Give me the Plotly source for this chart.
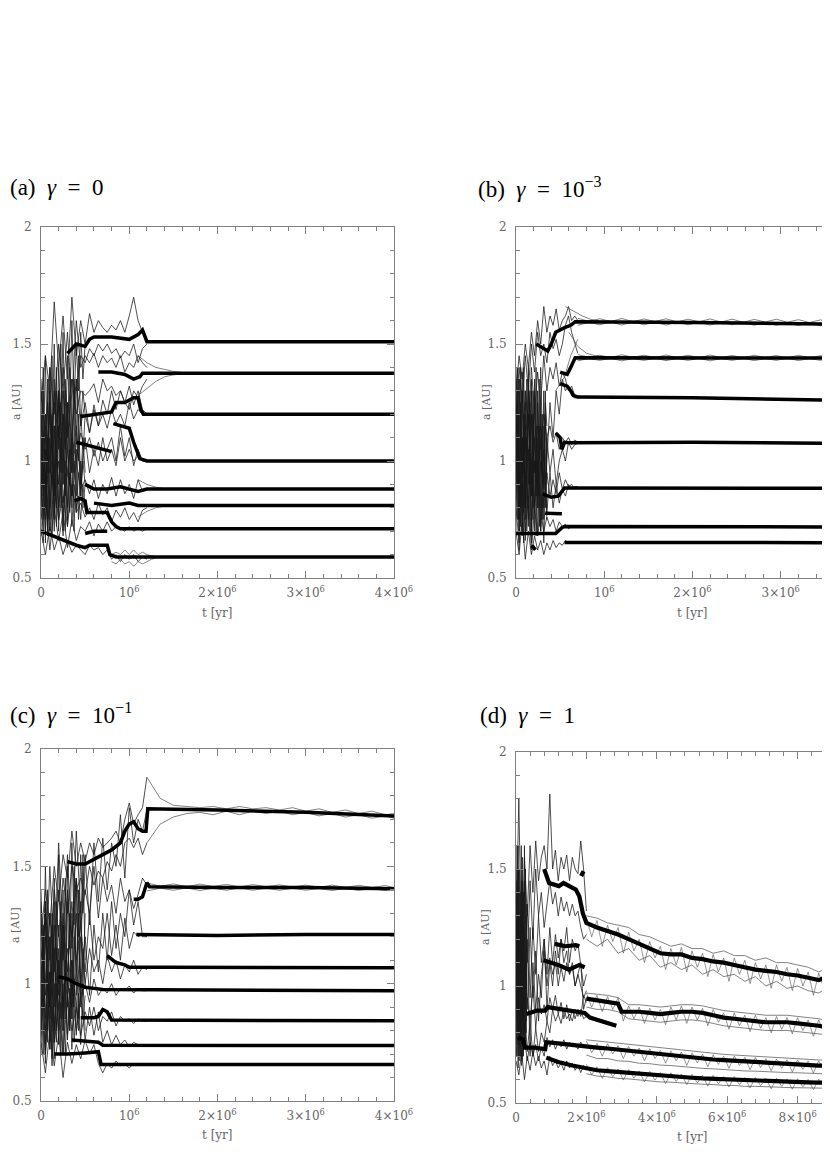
import plotly.graph_objects as go

# time t in units of 10^6 yr, semimajor axis a in AU

# ---------------- (a) gamma = 0 ----------------
A_T_CHAOS = [0, .05, .1, .15, .2, .25, .3, .35, .4, .45, .5, .55, .6, .65, .7, .75, .8, .85, .9, .95, 1.0, 1.05, 1.1, 1.15, 1.2]
A_CHAOS = [
    [1.25, 1.45, 1.3, 1.68, 1.4, 1.62, 1.35, 1.7, 1.45, 1.6, 1.5, 1.63, 1.55, 1.6, 1.57, 1.55, 1.58, 1.56, 1.6, 1.55, 1.62, 1.7, 1.6, 1.55, 1.52],
    [1.0, 1.2, 0.95, 1.3, 1.1, 1.4, 1.2, 1.35, 1.3, 1.45, 1.42, 1.48, 1.45, 1.5, 1.47, 1.5, 1.46, 1.48, 1.44, 1.47, 1.45, 1.5, 1.42, 1.48, 1.5],
    [1.3, 1.1, 1.4, 1.2, 1.5, 1.3, 1.55, 1.25, 1.6, 1.4, 1.45, 1.42, 1.46, 1.4, 1.45, 1.42, 1.44, 1.4, 1.45, 1.38, 1.42, 1.4, 1.45, 1.42, 1.4],
    [0.9, 1.15, 1.0, 1.25, 1.1, 1.3, 1.05, 1.35, 1.2, 1.3, 1.28, 1.3, 1.33, 1.25, 1.35, 1.3, 1.32, 1.28, 1.3, 1.25, 1.22, 1.3, 1.27, 1.32, 1.35],
    [1.1, 0.85, 1.2, 0.95, 1.3, 1.0, 1.25, 1.1, 1.35, 1.15, 1.25, 1.12, 1.24, 1.15, 1.26, 1.2, 1.3, 1.22, 1.3, 1.25, 1.32, 1.24, 1.3, 1.22, 1.2],
    [0.85, 1.05, 0.8, 1.15, 0.9, 1.2, 0.95, 1.1, 1.0, 1.12, 1.05, 1.1, 1.02, 1.08, 1.0, 1.05, 1.1, 1.0, 1.15, 1.02, 1.1, 0.98, 1.05, 1.0, 1.0],
    [1.0, 0.75, 1.1, 0.8, 1.0, 0.78, 0.95, 0.85, 1.0, 0.88, 0.92, 0.86, 0.92, 0.84, 0.9, 0.86, 0.93, 0.85, 0.92, 0.86, 0.9, 0.84, 0.92, 0.87, 0.88],
    [0.75, 0.95, 0.7, 0.9, 0.75, 0.85, 0.72, 0.9, 0.78, 0.82, 0.76, 0.8, 0.75, 0.82, 0.77, 0.8, 0.74, 0.79, 0.76, 0.8, 0.75, 0.78, 0.74, 0.79, 0.8],
    [0.68, 0.85, 0.62, 0.8, 0.66, 0.78, 0.63, 0.75, 0.66, 0.72, 0.7, 0.74, 0.68, 0.73, 0.7, 0.74, 0.7, 0.72, 0.71, 0.7, 0.72, 0.7, 0.71, 0.7, 0.71],
    [0.7, 0.6, 0.72, 0.62, 0.68, 0.6, 0.66, 0.61, 0.64, 0.62, 0.6, 0.64, 0.62, 0.63, 0.6, 0.62, 0.58, 0.6, 0.57, 0.6, 0.58, 0.6, 0.57, 0.59, 0.58],
    [1.35, 0.9, 1.25, 0.85, 1.3, 0.9, 1.2, 0.95, 1.15, 0.9, 1.1, 0.95, 1.05, 0.98, 1.1, 1.0, 1.05, 0.98, 1.1, 1.0, 1.05, 1.0, 1.02, 1.0, 1.0],
    [1.2, 0.7, 1.4, 0.75, 1.3, 0.7, 1.25, 0.8, 1.35, 0.85, 1.2, 1.12, 1.22, 1.15, 1.2, 1.14, 1.22, 1.16, 1.2, 1.15, 1.25, 1.18, 1.22, 1.2, 1.2],
]
A_T_CORE = [0, .025, .05, .075, .1, .125, .15, .175, .2, .225, .25, .275, .3, .325, .35, .375, .4, .425, .45, .475, .5]
A_CORE = [
    [0.72, 1.3, 0.8, 1.35, 0.7, 1.2, 0.85, 1.4, 0.75, 1.25, 0.9, 1.3, 0.8, 1.2, 0.95, 1.35, 0.85, 1.2, 0.9, 1.1, 0.95],
    [1.1, 0.65, 1.2, 0.75, 1.3, 0.68, 1.15, 0.72, 1.25, 0.8, 1.3, 0.7, 1.2, 0.78, 1.1, 0.7, 1.05, 0.75, 1.0, 0.8, 0.9],
    [0.9, 1.4, 0.85, 1.25, 1.0, 1.45, 0.9, 1.3, 1.05, 1.5, 0.95, 1.35, 1.1, 1.4, 1.0, 1.3, 1.1, 1.45, 1.15, 1.3, 1.2],
    [1.3, 0.85, 1.1, 0.7, 1.0, 0.9, 1.35, 0.8, 1.15, 0.95, 1.2, 0.85, 1.05, 0.9, 1.25, 0.95, 1.1, 1.0, 1.2, 1.05, 1.1],
    [0.8, 1.0, 0.65, 1.1, 0.75, 0.95, 0.7, 1.05, 0.8, 0.9, 0.68, 1.0, 0.75, 0.95, 0.72, 0.9, 0.8, 0.85, 0.75, 0.9, 0.8],
    [1.2, 1.0, 1.45, 0.95, 1.3, 1.1, 1.5, 1.0, 1.4, 1.15, 1.55, 1.05, 1.45, 1.2, 1.6, 1.25, 1.5, 1.3, 1.55, 1.35, 1.5],
    [0.95, 0.75, 1.05, 0.68, 0.9, 1.15, 0.78, 1.0, 0.7, 1.1, 0.82, 0.95, 0.72, 1.05, 0.85, 1.0, 0.78, 0.95, 0.85, 1.0, 0.9],
]
A_THIN = [
    ([1.1, 1.2, 1.3, 1.4, 1.5, 1.6, 1.7], [1.45, 1.42, 1.4, 1.39, 1.383, 1.378, 1.376]),
    ([1.1, 1.2, 1.3, 1.4, 1.5, 1.6, 1.7], [1.28, 1.31, 1.34, 1.36, 1.368, 1.372, 1.375]),
    ([1.1, 1.2, 1.3, 1.4], [0.92, 0.9, 0.888, 0.882]),
    ([1.1, 1.2, 1.3, 1.4], [0.76, 0.785, 0.8, 0.807]),
    ([0.8, 0.85, 0.9, 0.95, 1.0, 1.05, 1.1, 1.15, 1.2, 1.25, 1.3], [0.6, 0.61, 0.6, 0.62, 0.6, 0.62, 0.6, 0.61, 0.6, 0.595, 0.59]),
    ([0.8, 0.85, 0.9, 0.95, 1.0, 1.05, 1.1, 1.15, 1.2, 1.25, 1.3], [0.57, 0.56, 0.58, 0.56, 0.57, 0.55, 0.57, 0.56, 0.57, 0.58, 0.585]),
]
A_PLANETS = [
    ([0.3, 0.4, 0.5, 0.55, 0.6, 0.8, 1.0, 1.1, 1.15, 1.2, 1.3, 4.0], [1.46, 1.5, 1.49, 1.52, 1.53, 1.53, 1.52, 1.54, 1.56, 1.51, 1.51, 1.51]),
    ([0.65, 0.8, 0.95, 1.05, 1.12, 1.15, 4.0], [1.38, 1.38, 1.37, 1.35, 1.36, 1.375, 1.375]),
    ([0.45, 0.6, 0.8, 0.85, 0.95, 1.05, 1.1, 1.13, 1.16, 4.0], [1.19, 1.2, 1.21, 1.25, 1.25, 1.27, 1.27, 1.22, 1.2, 1.2]),
    ([0.82, 0.9, 1.0, 1.05, 1.12, 1.2, 4.0], [1.16, 1.15, 1.14, 1.08, 1.01, 1.0, 1.0]),
    ([0.4, 0.5, 0.6, 0.7, 0.8], [1.08, 1.07, 1.06, 1.05, 1.04]),
    ([0.5, 0.6, 0.75, 0.9, 1.0, 1.1, 1.2, 4.0], [0.9, 0.88, 0.88, 0.89, 0.88, 0.87, 0.88, 0.88]),
    ([0.6, 0.8, 1.0, 1.1, 1.2, 4.0], [0.82, 0.81, 0.82, 0.81, 0.81, 0.81]),
    ([0.38, 0.45, 0.5, 0.52, 0.6, 0.75, 0.8, 0.85, 0.9, 4.0], [0.83, 0.84, 0.83, 0.78, 0.78, 0.78, 0.74, 0.72, 0.71, 0.71]),
    ([0.0, 0.2, 0.4, 0.5, 0.55, 0.75, 0.78, 0.85, 1.0, 4.0], [0.7, 0.67, 0.64, 0.63, 0.64, 0.64, 0.6, 0.59, 0.59, 0.59]),
    ([0.5, 0.6, 0.75], [0.69, 0.7, 0.7]),
]

# ---------------- (b) gamma = 1e-3 ----------------
B_T_CHAOS = [0, .035, .07, .105, .14, .175, .21, .245, .28, .315, .35, .385, .42, .455, .49, .525, .56, .595, .63, .665, .7]
B_CHAOS = [
    [1.3, 1.45, 1.35, 1.5, 1.4, 1.55, 1.45, 1.6, 1.5, 1.66, 1.55, 1.62, 1.58, 1.65, 1.56, 1.6, 1.62, 1.66, 1.6, 1.62, 1.6],
    [1.2, 1.4, 1.25, 1.45, 1.3, 1.5, 1.38, 1.55, 1.45, 1.5, 1.42, 1.55, 1.48, 1.52, 1.45, 1.5, 1.58, 1.62, 1.55, 1.5, 1.46],
    [1.1, 1.35, 1.0, 1.3, 1.15, 1.4, 1.2, 1.38, 1.25, 1.45, 1.3, 1.4, 1.35, 1.42, 1.32, 1.38, 1.35, 1.3, 1.32, 1.28, 1.27],
    [0.9, 1.3, 0.95, 1.25, 1.0, 1.2, 0.95, 1.15, 1.05, 1.2, 1.1, 1.15, 1.08, 1.12, 1.05, 1.1, 1.08, 1.1, 1.07, 1.09, 1.08],
    [1.05, 0.75, 1.1, 0.8, 1.2, 0.85, 1.1, 0.8, 1.0, 0.88, 0.95, 0.85, 0.92, 0.86, 0.95, 0.88, 0.92, 0.89, 0.9, 0.88, 0.89],
    [0.8, 0.65, 0.9, 0.7, 0.85, 0.62, 0.8, 0.68, 0.78, 0.7, 0.76, 0.72, 0.75, 0.7, 0.74, 0.72, 0.73, 0.71, 0.72, 0.72, 0.72],
    [0.7, 0.6, 0.75, 0.58, 0.7, 0.6, 0.68, 0.62, 0.66, 0.6, 0.65, 0.62, 0.66, 0.63, 0.65, 0.64, 0.66, 0.65, 0.65, 0.65, 0.65],
    [1.4, 0.9, 1.3, 0.8, 1.35, 0.95, 1.25, 0.85, 1.2, 0.9, 1.1, 0.95, 1.05, 0.9, 1.0, 1.05, 1.0, 1.08, 1.05, 1.07, 1.075],
    [0.95, 1.2, 0.7, 1.1, 0.75, 1.3, 0.8, 1.0, 0.7, 1.05, 0.78, 0.95, 0.8, 0.9, 0.82, 0.88, 0.85, 0.9, 0.88, 0.89, 0.89],
    [1.25, 0.8, 1.38, 0.9, 1.2, 0.7, 1.3, 0.95, 1.15, 0.8, 1.0, 1.25, 1.1, 1.3, 1.2, 1.35, 1.3, 1.32, 1.28, 1.27, 1.27],
]
B_T_CORE = [0, .0175, .035, .0525, .07, .0875, .105, .1225, .14, .1575, .175, .1925, .21, .2275, .245, .2625, .28, .2975, .315, .3325, .35]
B_CORE = [
    [0.7, 1.3, 0.75, 1.4, 0.68, 1.2, 0.8, 1.35, 0.72, 1.25, 0.85, 1.3, 0.7, 1.15, 0.9, 1.35, 0.8, 1.2, 0.75, 1.3, 0.9],
    [1.2, 0.75, 1.35, 0.8, 1.1, 0.65, 1.3, 0.9, 1.4, 0.7, 1.2, 0.8, 1.35, 0.68, 1.1, 0.85, 1.25, 0.75, 1.15, 0.9, 1.05],
    [0.95, 1.15, 0.7, 1.25, 0.85, 1.4, 0.75, 1.1, 0.9, 1.3, 0.7, 1.05, 0.95, 1.4, 0.8, 1.15, 0.7, 1.0, 0.9, 1.2, 0.8],
    [1.35, 0.9, 1.1, 0.72, 1.3, 0.95, 1.2, 0.7, 1.05, 0.9, 1.35, 0.75, 1.0, 0.85, 1.25, 0.72, 1.1, 0.95, 1.3, 0.8, 1.1],
    [0.8, 1.05, 0.62, 0.95, 0.75, 1.1, 0.66, 0.9, 0.8, 1.0, 0.65, 0.92, 0.78, 1.05, 0.68, 0.9, 0.72, 0.85, 0.65, 0.9, 0.75],
    [1.05, 1.4, 0.9, 1.2, 1.0, 0.78, 1.15, 0.95, 1.3, 1.05, 0.9, 1.2, 1.05, 0.95, 1.3, 1.0, 1.4, 1.1, 1.0, 1.25, 1.15],
]
B_T_LATE = [0.7, 0.825, 0.95, 1.075, 1.2, 1.325, 1.45, 1.575, 1.7, 1.825, 1.95, 2.075, 2.2, 2.325, 2.45, 2.575, 2.7, 2.825, 2.95, 3.075, 3.2, 3.325, 3.45, 3.575]
B_THIN = [
    (B_T_LATE, [1.61, 1.597, 1.608, 1.596, 1.609, 1.595, 1.607, 1.596, 1.608, 1.594, 1.606, 1.595, 1.607, 1.594, 1.606, 1.593, 1.605, 1.594, 1.606, 1.593, 1.604, 1.592, 1.603, 1.59]),
    (B_T_LATE, [1.58, 1.593, 1.582, 1.594, 1.581, 1.595, 1.582, 1.593, 1.581, 1.594, 1.582, 1.593, 1.581, 1.594, 1.582, 1.593, 1.58, 1.592, 1.58, 1.591, 1.579, 1.59, 1.578, 1.585]),
    (B_T_LATE, [1.455, 1.443, 1.452, 1.442, 1.454, 1.443, 1.452, 1.442, 1.453, 1.442, 1.452, 1.441, 1.453, 1.442, 1.451, 1.441, 1.452, 1.442, 1.451, 1.44, 1.452, 1.441, 1.45, 1.44]),
    (B_T_LATE, [1.428, 1.438, 1.43, 1.439, 1.428, 1.438, 1.43, 1.439, 1.429, 1.438, 1.43, 1.439, 1.428, 1.438, 1.43, 1.439, 1.429, 1.438, 1.43, 1.44, 1.429, 1.438, 1.43, 1.44]),
    ([0.56, 0.65, 0.75, 0.85, 0.95], [1.66, 1.64, 1.62, 1.605, 1.598]),
    ([0.6, 0.65, 0.7, 0.8, 0.9, 1.0], [1.55, 1.52, 1.49, 1.46, 1.45, 1.445]),
    ([0.45, 0.55, 0.62, 0.7], [1.3, 1.36, 1.45, 1.52]),
]
B_PLANETS = [
    ([0.23, 0.36, 0.4, 0.45, 0.55, 0.62, 0.67, 1.0, 2.0, 3.0, 3.65], [1.5, 1.47, 1.5, 1.55, 1.57, 1.58, 1.595, 1.595, 1.592, 1.588, 1.585]),
    ([0.5, 0.58, 0.62, 0.67, 3.65], [1.38, 1.37, 1.4, 1.441, 1.44]),
    ([0.5, 0.58, 0.62, 0.65, 0.7, 2.0, 3.65], [1.33, 1.32, 1.3, 1.28, 1.273, 1.27, 1.26]),
    ([0.45, 0.5, 0.52, 0.55, 0.6, 2.0, 3.65], [1.12, 1.1, 1.05, 1.08, 1.078, 1.08, 1.075]),
    ([0.3, 0.4, 0.48, 0.52, 0.55, 0.6, 3.65], [0.86, 0.845, 0.85, 0.87, 0.885, 0.885, 0.883]),
    ([0.0, 0.2, 0.3, 0.45, 0.52, 0.55, 3.65], [0.69, 0.69, 0.69, 0.69, 0.715, 0.72, 0.718]),
    ([0.55, 3.65], [0.652, 0.651]),
    ([0.33, 0.45, 0.52], [0.777, 0.777, 0.775]),
    ([0.18, 0.22], [0.64, 0.62]),
]

# ---------------- (c) gamma = 1e-1 ----------------
C_T_CHAOS = [0, .05, .1, .15, .2, .25, .3, .35, .4, .45, .5, .55, .6, .65, .7, .75, .8, .85, .9, .95, 1.0, 1.05, 1.1, 1.15, 1.2]
C_CHAOS = [
    [1.2, 1.4, 1.25, 1.5, 1.35, 1.55, 1.45, 1.65, 1.5, 1.6, 1.52, 1.6, 1.55, 1.62, 1.58, 1.6, 1.62, 1.65, 1.6, 1.7, 1.77, 1.68, 1.72, 1.75, 1.88],
    [1.0, 1.3, 1.1, 1.4, 1.2, 1.45, 1.3, 1.5, 1.4, 1.45, 1.38, 1.5, 1.42, 1.48, 1.45, 1.52, 1.48, 1.55, 1.5, 1.6, 1.62, 1.58, 1.62, 1.55, 1.6],
    [1.25, 0.95, 1.3, 1.05, 1.4, 1.1, 1.35, 1.2, 1.45, 1.25, 1.4, 1.3, 1.5, 1.28, 1.45, 1.35, 1.42, 1.3, 1.45, 1.35, 1.4, 1.32, 1.38, 1.45, 1.42],
    [1.1, 1.3, 0.9, 1.25, 1.0, 1.3, 1.05, 1.35, 1.1, 1.25, 1.05, 1.3, 1.1, 1.2, 1.15, 1.3, 1.12, 1.25, 1.1, 1.28, 1.15, 1.22, 1.2, 1.21, 1.2],
    [0.8, 1.2, 0.85, 1.15, 0.9, 1.25, 0.95, 1.1, 0.9, 1.2, 1.0, 1.15, 1.05, 1.1, 1.0, 1.12, 1.05, 1.1, 1.02, 1.08, 1.05, 1.1, 1.04, 1.07, 1.06],
    [1.1, 0.75, 1.05, 0.8, 1.1, 0.85, 1.0, 0.9, 1.05, 0.95, 1.0, 0.92, 1.02, 0.95, 0.98, 0.96, 1.0, 0.95, 0.98, 0.97, 0.99, 0.96, 0.98, 0.97, 0.97],
    [0.95, 0.7, 1.0, 0.75, 0.9, 0.7, 0.95, 0.8, 0.9, 0.78, 0.88, 0.82, 0.9, 0.8, 0.86, 0.84, 0.88, 0.82, 0.86, 0.84, 0.85, 0.83, 0.85, 0.84, 0.84],
    [0.75, 0.62, 0.8, 0.65, 0.78, 0.6, 0.75, 0.66, 0.74, 0.68, 0.76, 0.7, 0.74, 0.66, 0.62, 0.66, 0.64, 0.67, 0.65, 0.66, 0.64, 0.66, 0.65, 0.66, 0.65],
    [1.3, 0.85, 1.2, 0.8, 1.25, 0.9, 1.15, 0.95, 1.3, 1.0, 1.2, 0.95, 1.25, 1.05, 1.3, 1.1, 1.35, 1.15, 1.3, 1.2, 1.4, 1.25, 1.35, 1.2, 1.2],
    [0.95, 1.35, 0.75, 1.1, 0.8, 1.2, 0.78, 1.0, 0.8, 0.95, 0.76, 0.9, 0.78, 0.88, 0.75, 0.8, 0.74, 0.78, 0.74, 0.76, 0.73, 0.75, 0.74, 0.74, 0.735],
    [1.35, 1.0, 1.5, 1.1, 1.6, 1.2, 1.55, 1.15, 1.65, 1.3, 1.55, 1.25, 1.6, 1.35, 1.62, 1.4, 1.6, 1.5, 1.72, 1.45, 1.75, 1.6, 1.7, 1.65, 1.74],
]
C_T_CORE = [0, .025, .05, .075, .1, .125, .15, .175, .2, .225, .25, .275, .3, .325, .35, .375, .4, .425, .45, .475, .5]
C_CORE = [
    [1.0, 0.7, 1.3, 0.75, 1.2, 0.68, 1.35, 0.8, 1.1, 0.7, 1.25, 0.85, 1.4, 0.8, 1.3, 0.9, 1.45, 0.85, 1.35, 0.95, 1.3],
    [0.7, 1.1, 0.8, 1.4, 0.72, 1.25, 0.9, 1.35, 0.75, 1.2, 0.8, 1.45, 0.9, 1.3, 0.85, 1.5, 0.95, 1.4, 1.0, 1.55, 1.1],
    [1.2, 0.9, 1.35, 0.8, 1.05, 0.65, 1.0, 0.75, 1.15, 0.85, 1.0, 0.7, 0.95, 0.8, 1.1, 0.75, 0.9, 0.8, 1.0, 0.85, 0.95],
    [0.85, 1.25, 0.7, 1.0, 0.9, 1.3, 0.75, 1.15, 0.95, 1.35, 0.8, 1.1, 1.0, 1.25, 0.85, 1.2, 1.05, 1.3, 0.9, 1.15, 1.0],
    [1.4, 1.05, 1.5, 1.1, 1.3, 0.95, 1.45, 1.1, 1.55, 1.2, 1.4, 1.05, 1.5, 1.15, 1.6, 1.25, 1.45, 1.2, 1.55, 1.3, 1.5],
    [0.78, 0.95, 0.66, 1.05, 0.72, 0.9, 0.68, 1.0, 0.74, 0.92, 0.7, 1.05, 0.76, 0.98, 0.72, 1.02, 0.78, 0.96, 0.74, 1.0, 0.8],
]
C_T_LATE = [1.2, 1.35, 1.5, 1.65, 1.8, 1.95, 2.1, 2.25, 2.4, 2.55, 2.7, 2.85, 3.0, 3.15, 3.3, 3.45, 3.6, 3.75, 3.9, 4.0]
C_THIN = [
    (C_T_LATE, [1.88, 1.79, 1.76, 1.755, 1.75, 1.755, 1.745, 1.755, 1.745, 1.75, 1.74, 1.75, 1.735, 1.745, 1.73, 1.74, 1.725, 1.735, 1.72, 1.725]),
    (C_T_LATE, [1.6, 1.68, 1.71, 1.725, 1.73, 1.72, 1.735, 1.72, 1.735, 1.725, 1.735, 1.72, 1.73, 1.715, 1.725, 1.71, 1.72, 1.705, 1.715, 1.705]),
    (C_T_LATE, [1.43, 1.415, 1.425, 1.413, 1.424, 1.414, 1.423, 1.412, 1.422, 1.413, 1.421, 1.412, 1.42, 1.411, 1.42, 1.41, 1.419, 1.41, 1.418, 1.41]),
    (C_T_LATE, [1.395, 1.407, 1.398, 1.408, 1.397, 1.407, 1.398, 1.408, 1.398, 1.407, 1.398, 1.407, 1.398, 1.406, 1.397, 1.406, 1.397, 1.405, 1.397, 1.405]),
]
C_PLANETS = [
    ([0.3, 0.4, 0.5, 0.6, 0.7, 0.8, 0.9, 0.95, 1.0, 1.05, 1.1, 1.15, 1.19, 1.21, 2.0, 3.0, 4.0],
     [1.52, 1.51, 1.51, 1.53, 1.55, 1.57, 1.6, 1.65, 1.68, 1.69, 1.66, 1.65, 1.65, 1.745, 1.74, 1.73, 1.715]),
    ([1.05, 1.1, 1.15, 1.2, 1.23, 2.0, 3.0, 4.0], [1.36, 1.36, 1.37, 1.43, 1.413, 1.41, 1.41, 1.405]),
    ([1.08, 2.0, 3.0, 4.0], [1.21, 1.205, 1.21, 1.21]),
    ([0.75, 0.85, 0.95, 1.0, 1.4, 4.0], [1.12, 1.09, 1.08, 1.07, 1.07, 1.068]),
    ([0.2, 0.3, 0.4, 0.5, 0.6, 0.7, 4.0], [1.03, 1.02, 1.0, 0.985, 0.98, 0.975, 0.97]),
    ([0.45, 0.6, 0.65, 0.7, 0.75, 0.8, 4.0], [0.855, 0.855, 0.86, 0.89, 0.88, 0.845, 0.842]),
    ([0.35, 0.5, 0.65, 0.7, 4.0], [0.76, 0.755, 0.75, 0.738, 0.736]),
    ([0.15, 0.3, 0.5, 0.65, 0.68, 4.0], [0.7, 0.7, 0.705, 0.71, 0.656, 0.656]),
]

# ---------------- (d) gamma = 1 ----------------
D_T_CHAOS = [0, .08, .16, .24, .32, .4, .48, .56, .64, .72, .8, .88, .96, 1.04, 1.12, 1.2, 1.28, 1.36, 1.44, 1.52, 1.6, 1.68, 1.76, 1.84, 1.92, 2.0]
D_CHAOS = [
    [1.2, 1.8, 1.1, 1.55, 1.3, 1.6, 1.4, 1.62, 1.45, 1.55, 1.6, 1.5, 1.82, 1.5, 1.58, 1.45, 1.55, 1.5, 1.56, 1.45, 1.55, 1.5, 1.48, 1.62, 1.5, 1.32],
    [1.0, 1.5, 0.9, 1.4, 1.1, 1.45, 1.2, 1.5, 1.3, 1.4, 1.25, 1.35, 1.45, 1.35, 1.4, 1.3, 1.38, 1.32, 1.36, 1.3, 1.35, 1.3, 1.32, 1.25, 1.2, 1.22],
    [1.4, 0.8, 1.3, 0.9, 1.35, 0.95, 1.25, 1.05, 1.3, 1.1, 1.2, 1.05, 1.25, 1.1, 1.22, 1.12, 1.2, 1.15, 1.25, 1.1, 1.2, 1.15, 1.18, 1.1, 1.0, 1.05],
    [0.85, 1.3, 0.75, 1.2, 0.9, 1.25, 0.95, 1.15, 0.85, 1.05, 1.15, 1.0, 1.12, 1.05, 1.1, 1.0, 1.08, 1.02, 1.1, 1.05, 1.08, 1.0, 1.05, 1.1, 0.9, 0.95],
    [1.1, 0.7, 1.0, 0.75, 0.95, 0.85, 1.0, 0.82, 0.95, 0.88, 0.92, 0.85, 0.95, 0.9, 0.96, 0.88, 0.93, 0.86, 0.92, 0.85, 0.9, 0.86, 0.9, 0.87, 0.96, 0.93],
    [0.75, 0.95, 0.68, 0.9, 0.72, 0.85, 0.7, 0.82, 0.72, 0.8, 0.76, 0.85, 0.8, 0.9, 0.85, 0.88, 0.84, 0.9, 0.86, 0.88, 0.85, 0.9, 0.87, 0.9, 0.86, 0.87],
    [0.7, 0.82, 0.66, 0.78, 0.68, 0.76, 0.7, 0.75, 0.68, 0.74, 0.7, 0.78, 0.74, 0.77, 0.73, 0.76, 0.74, 0.77, 0.73, 0.76, 0.74, 0.75, 0.73, 0.76, 0.74, 0.75],
    [0.68, 0.62, 0.72, 0.6, 0.7, 0.64, 0.72, 0.66, 0.7, 0.65, 0.68, 0.62, 0.7, 0.66, 0.68, 0.65, 0.67, 0.64, 0.68, 0.65, 0.67, 0.64, 0.66, 0.63, 0.66, 0.64],
    [1.3, 0.9, 1.45, 0.8, 1.2, 0.7, 1.1, 0.9, 1.05, 0.95, 1.2, 0.9, 1.1, 1.0, 1.15, 1.05, 1.2, 1.1, 1.15, 1.05, 1.1, 1.0, 1.05, 1.0, 0.95, 0.98],
]
D_T_CORE = [0, .03, .06, .09, .12, .15, .18, .21, .24, .27, .3]
D_CORE = [
    [1.5, 0.7, 1.6, 0.75, 1.4, 0.7, 1.55, 0.8, 1.45, 0.75, 1.3],
    [0.7, 1.45, 0.65, 1.5, 0.8, 1.6, 0.7, 1.4, 0.75, 1.5, 0.85],
    [1.1, 0.8, 1.3, 0.9, 1.2, 0.75, 1.35, 0.85, 1.25, 0.9, 1.1],
    [0.9, 1.25, 0.8, 1.2, 0.95, 1.3, 0.85, 1.15, 0.95, 1.1, 1.0],
    [1.3, 0.9, 1.5, 0.68, 1.2, 1.0, 1.4, 0.7, 1.25, 0.95, 1.35],
    [0.95, 1.6, 1.0, 1.3, 0.7, 1.1, 1.45, 0.9, 1.6, 1.05, 0.8],
]
D_T_LATE = [2.0, 2.3, 2.6, 2.9, 3.2, 3.5, 3.8, 4.1, 4.4, 4.7, 5.0, 5.3, 5.6, 5.9, 6.2, 6.5, 6.8, 7.1, 7.4, 7.7, 8.0, 8.3, 8.6, 8.92]
D_THIN = [
    (D_T_LATE, [1.3, 1.29, 1.27, 1.26, 1.25, 1.22, 1.21, 1.19, 1.17, 1.18, 1.16, 1.16, 1.14, 1.15, 1.13, 1.13, 1.11, 1.12, 1.1, 1.1, 1.09, 1.08, 1.06, 1.08]),
    (D_T_LATE, [1.2, 1.17, 1.2, 1.14, 1.16, 1.11, 1.13, 1.08, 1.1, 1.07, 1.09, 1.05, 1.07, 1.04, 1.05, 1.02, 1.04, 1.0, 1.02, 0.99, 1.0, 0.98, 0.97, 1.0]),
    (D_T_LATE, [0.97, 0.965, 0.96, 0.95, 0.92, 0.92, 0.915, 0.91, 0.915, 0.92, 0.92, 0.915, 0.905, 0.895, 0.89, 0.885, 0.88, 0.875, 0.875, 0.875, 0.87, 0.865, 0.86, 0.85]),
    (D_T_LATE, [0.91, 0.9, 0.9, 0.89, 0.86, 0.855, 0.85, 0.845, 0.85, 0.855, 0.855, 0.85, 0.84, 0.83, 0.825, 0.82, 0.815, 0.81, 0.81, 0.81, 0.805, 0.8, 0.795, 0.79]),
    (D_T_LATE, [0.77, 0.765, 0.76, 0.755, 0.75, 0.745, 0.74, 0.735, 0.73, 0.725, 0.72, 0.716, 0.712, 0.708, 0.705, 0.702, 0.699, 0.696, 0.693, 0.69, 0.688, 0.686, 0.684, 0.682]),
    (D_T_LATE, [0.705, 0.69, 0.69, 0.68, 0.678, 0.67, 0.668, 0.662, 0.66, 0.655, 0.652, 0.648, 0.646, 0.642, 0.64, 0.637, 0.636, 0.633, 0.632, 0.63, 0.629, 0.627, 0.626, 0.624]),
    (D_T_LATE, [0.625, 0.615, 0.612, 0.605, 0.603, 0.598, 0.596, 0.59, 0.589, 0.585, 0.584, 0.58, 0.579, 0.575, 0.575, 0.571, 0.571, 0.568, 0.568, 0.566, 0.566, 0.565, 0.564, 0.563]),
]
D_T_HAIR = [2.0, 2.15, 2.3, 2.45, 2.6, 2.75, 2.9, 3.05, 3.2, 3.35, 3.5, 3.65, 3.8, 3.95, 4.1, 4.25, 4.4, 4.55, 4.7, 4.85, 5.0, 5.15, 5.3, 5.45,
            5.6, 5.75, 5.9, 6.05, 6.2, 6.35, 6.5, 6.65, 6.8, 6.95, 7.1, 7.25, 7.4, 7.55, 7.7, 7.85, 8.0, 8.15, 8.3, 8.45, 8.6, 8.75, 8.9]
D_HAIR = [
    [1.29, 1.21, 1.28, 1.17, 1.26, 1.19, 1.25, 1.14, 1.23, 1.15, 1.2, 1.1, 1.19, 1.12, 1.17, 1.07, 1.16, 1.09, 1.165, 1.06, 1.15, 1.08, 1.14, 1.04,
     1.135, 1.06, 1.12, 1.02, 1.12, 1.05, 1.11, 1.01, 1.1, 1.03, 1.09, 0.99, 1.09, 1.02, 1.08, 0.98, 1.075, 1.0, 1.06, 0.96, 1.055, 0.99, 1.075],
    [0.97, 0.91, 0.96, 0.89, 0.955, 0.9, 0.95, 0.85, 0.915, 0.86, 0.91, 0.84, 0.905, 0.855, 0.9, 0.835, 0.91, 0.855, 0.915, 0.84, 0.91, 0.855, 0.905, 0.83,
     0.9, 0.845, 0.885, 0.815, 0.885, 0.83, 0.875, 0.805, 0.875, 0.82, 0.865, 0.8, 0.87, 0.815, 0.865, 0.795, 0.865, 0.81, 0.855, 0.785, 0.855, 0.8, 0.845],
    [0.765, 0.715, 0.755, 0.7, 0.753, 0.71, 0.745, 0.69, 0.742, 0.7, 0.735, 0.68, 0.732, 0.69, 0.725, 0.67, 0.723, 0.68, 0.718, 0.66, 0.714, 0.672, 0.708, 0.655,
     0.706, 0.665, 0.7, 0.648, 0.7, 0.66, 0.695, 0.642, 0.694, 0.652, 0.69, 0.638, 0.688, 0.648, 0.685, 0.632, 0.684, 0.644, 0.68, 0.628, 0.68, 0.64, 0.678],
    [0.665, 0.62, 0.655, 0.605, 0.651, 0.612, 0.645, 0.598, 0.643, 0.606, 0.637, 0.59, 0.635, 0.598, 0.63, 0.583, 0.629, 0.592, 0.624, 0.578, 0.623, 0.586, 0.618, 0.572,
     0.618, 0.582, 0.613, 0.568, 0.613, 0.578, 0.609, 0.564, 0.609, 0.574, 0.605, 0.561, 0.606, 0.571, 0.603, 0.559, 0.604, 0.569, 0.601, 0.557, 0.602, 0.567, 0.601],
]
D_PLANETS = [
    ([0.8, 0.94, 1.22, 1.35, 1.7, 1.8, 1.9, 2.0, 2.3, 2.6, 2.9, 3.2, 3.5, 3.8, 4.1, 4.4, 4.7, 5.0, 5.3, 5.6, 5.9, 6.2, 6.5, 6.8, 7.1, 7.4, 7.7, 8.0, 8.3, 8.6, 8.92],
     [1.5, 1.44, 1.427, 1.44, 1.412, 1.383, 1.31, 1.27, 1.25, 1.235, 1.22, 1.2, 1.18, 1.16, 1.14, 1.135, 1.135, 1.12, 1.115, 1.105, 1.1, 1.09, 1.08, 1.07, 1.065, 1.06, 1.05, 1.045, 1.035, 1.025, 1.045]),
    ([0.3, 0.6, 0.83, 0.9, 1.3, 1.74, 1.95, 2.1, 2.4, 2.7, 2.85], [0.88, 0.895, 0.895, 0.91, 0.9, 0.888, 0.885, 0.865, 0.85, 0.835, 0.83]),
    ([2.0, 2.3, 2.6, 2.9, 3.0, 3.2, 3.5, 3.8, 4.1, 4.4, 4.7, 5.0, 5.3, 5.6, 5.9, 6.2, 6.5, 6.8, 7.1, 7.4, 7.7, 8.0, 8.3, 8.6, 8.92],
     [0.946, 0.94, 0.935, 0.925, 0.89, 0.89, 0.89, 0.885, 0.88, 0.885, 0.89, 0.89, 0.885, 0.875, 0.865, 0.86, 0.855, 0.85, 0.845, 0.845, 0.845, 0.84, 0.835, 0.83, 0.82]),
    ([0.05, 0.2, 0.26, 0.5, 0.83, 0.86, 1.2, 1.6, 2.0, 2.3, 2.6, 2.9, 3.2, 3.5, 3.8, 4.1, 4.4, 4.7, 5.0, 5.3, 5.6, 5.9, 6.2, 6.5, 6.8, 7.1, 7.4, 7.7, 8.0, 8.3, 8.6, 8.92],
     [0.78, 0.77, 0.737, 0.737, 0.73, 0.76, 0.755, 0.75, 0.745, 0.737, 0.733, 0.728, 0.722, 0.717, 0.712, 0.708, 0.703, 0.699, 0.694, 0.69, 0.686, 0.683, 0.68, 0.677, 0.674, 0.671, 0.668, 0.666, 0.664, 0.662, 0.66, 0.658]),
    ([0.86, 1.2, 1.6, 2.0, 2.3, 2.6, 2.9, 3.2, 3.5, 3.8, 4.1, 4.4, 4.7, 5.0, 5.3, 5.6, 5.9, 6.2, 6.5, 6.8, 7.1, 7.4, 7.7, 8.0, 8.3, 8.6, 8.92],
     [0.694, 0.675, 0.66, 0.648, 0.64, 0.636, 0.632, 0.628, 0.624, 0.62, 0.617, 0.614, 0.611, 0.608, 0.605, 0.603, 0.6, 0.598, 0.596, 0.594, 0.592, 0.591, 0.59, 0.589, 0.588, 0.587, 0.586]),
    ([1.1, 1.4, 1.7, 1.8], [1.18, 1.17, 1.175, 1.17]),
    ([0.78, 1.2, 1.5, 1.8, 1.95], [1.11, 1.09, 1.07, 1.09, 1.08]),
    ([1.85, 1.92], [1.47, 1.49]),
]

# axes / labels
X_TICKS_4 = [0, 1, 2, 3, 4]
X_TEXT_4 = ["0", "10<sup>6</sup>", "2×10<sup>6</sup>", "3×10<sup>6</sup>", "4×10<sup>6</sup>"]
X_TICKS_10 = [0, 2, 4, 6, 8]
X_TEXT_10 = ["0", "2×10<sup>6</sup>", "4×10<sup>6</sup>", "6×10<sup>6</sup>", "8×10<sup>6</sup>"]
TITLES = [
    "(a)\u2002<i>γ</i>\u2002=\u20020",
    "(b)\u2002<i>γ</i>\u2002=\u200210<sup>−3</sup>",
    "(c)\u2002<i>γ</i>\u2002=\u200210<sup>−1</sup>",
    "(d)\u2002<i>γ</i>\u2002=\u20021",
]

W, H = 830, 1173
OFF = 8  # the page body margin shifts the figure by this many pixels
GRAY = "#808080"
TEXT_GRAY = "#666666"
TICK_FONT = dict(family="DejaVu Serif", size=12, color=TEXT_GRAY)
CLOUD = dict(color="rgba(25,25,25,0.85)", width=0.9)
THIN = dict(color="rgba(70,70,70,0.85)", width=0.8)
HAIR = dict(color="rgba(80,80,80,0.75)", width=0.8)


def px(x):
    return (x - OFF) / W


def py(y):
    return 1 - (y - OFF) / H


fig = go.Figure()


def add_lines(xa, ya, t, rows, line):
    for a in rows:
        fig.add_trace(go.Scatter(x=t, y=a, xaxis=xa, yaxis=ya, mode="lines", line=line, hoverinfo="skip"))


def add_panel(n, clouds, thin, planets, width, hair=None):
    xa = "x" if n == 1 else f"x{n}"
    ya = "y" if n == 1 else f"y{n}"
    for t, rows in clouds:
        add_lines(xa, ya, t, rows, CLOUD)
    if hair:
        add_lines(xa, ya, hair[0], hair[1], HAIR)
    for t, a in thin:
        add_lines(xa, ya, t, [a], THIN)
    for t, a in planets:
        add_lines(xa, ya, t, [a], dict(color="black", width=width))


add_panel(1, [(A_T_CHAOS, A_CHAOS), (A_T_CORE, A_CORE)], A_THIN, A_PLANETS, 3.5)
add_panel(2, [(B_T_CHAOS, B_CHAOS), (B_T_CORE, B_CORE)], B_THIN, B_PLANETS, 3.5)
add_panel(3, [(C_T_CHAOS, C_CHAOS), (C_T_CORE, C_CORE)], C_THIN, C_PLANETS, 3.5)
add_panel(4, [(D_T_CHAOS, D_CHAOS), (D_T_CORE, D_CORE)], D_THIN, D_PLANETS, 4.2, hair=(D_T_HAIR, D_HAIR))


def xaxis(x0, x1, y_anchor, rng, dtick, minor, vals, text):
    return dict(domain=[px(x0), min(px(x1), 1)], anchor=y_anchor, range=rng, automargin=False,
                tickmode="linear", tick0=0, dtick=dtick,
                labelalias={str(v): s for v, s in zip(vals, text)},
                ticks="inside", ticklen=7, tickwidth=1, tickcolor=GRAY,
                minor=dict(dtick=minor, tick0=0, ticks="inside", ticklen=4, tickcolor=GRAY),
                showline=True, linecolor=GRAY, linewidth=1, mirror="ticks",
                showgrid=False, zeroline=False, tickfont=TICK_FONT, ticklabelstandoff=4)


def yaxis(y0, y1, x_anchor, mirror):
    return dict(domain=[py(y1), py(y0)], anchor=x_anchor, range=[0.5, 2], automargin=False,
                tickmode="linear", tick0=0.5, dtick=0.5,
                ticks="inside", ticklen=7, tickwidth=1, tickcolor=GRAY,
                minor=dict(dtick=0.1, tick0=0.5, ticks="inside", ticklen=4, tickcolor=GRAY),
                showline=True, linecolor=GRAY, linewidth=1, mirror=mirror,
                showgrid=False, zeroline=False, tickfont=TICK_FONT, ticklabelstandoff=6)


# right-hand panels run past the page edge; keep their scale (88.25 px per 1e6 yr, 35.2 px per 1e6 yr)
RIGHT_EDGE = W + OFF
fig.update_layout(
    width=W, height=H, margin=dict(l=0, r=0, t=0, b=0, autoexpand=False),
    paper_bgcolor="white", plot_bgcolor="white", showlegend=False,
    xaxis=xaxis(41, 394, "y", [0, 4], 1, 0.2, X_TICKS_4, X_TEXT_4),
    yaxis=yaxis(227, 578, "x", "ticks"),
    xaxis2=xaxis(516, RIGHT_EDGE, "y2", [0, (RIGHT_EDGE - 516) / 88.25], 1, 0.2, X_TICKS_4, X_TEXT_4),
    yaxis2=yaxis(227, 578, "x2", False),
    xaxis3=xaxis(41, 394, "y3", [0, 4], 1, 0.2, X_TICKS_4, X_TEXT_4),
    yaxis3=yaxis(749, 1101, "x3", "ticks"),
    xaxis4=xaxis(516, RIGHT_EDGE, "y4", [0, (RIGHT_EDGE - 516) / 35.2], 2, 0.4, X_TICKS_10, X_TEXT_10),
    yaxis4=yaxis(752, 1103, "x4", False),
)

ann = []
title_pos = [(OFF, 188), (476, 188), (OFF, 713), (478, 715)]
for (x, y), txt in zip(title_pos, TITLES):
    ann.append(dict(x=px(x), y=py(y), xref="paper", yref="paper", text=txt, showarrow=False,
                    xanchor="left", yanchor="middle",
                    font=dict(family="Liberation Serif", size=23, color="black")))
for x, y in [(217, 613), (692, 613), (217, 1135), (692, 1137)]:
    ann.append(dict(x=px(x), y=py(y), xref="paper", yref="paper", text="t [yr]", showarrow=False,
                    xanchor="center", yanchor="middle",
                    font=dict(family="DejaVu Serif", size=12, color=TEXT_GRAY)))
for x, y in [(16, 402), (486, 402), (16, 925), (485, 927)]:
    ann.append(dict(x=px(x), y=py(y), xref="paper", yref="paper", text="a [AU]", showarrow=False,
                    xanchor="center", yanchor="middle", textangle=-90,
                    font=dict(family="DejaVu Serif", size=11, color=TEXT_GRAY)))
fig.update_layout(annotations=ann)

fig.write_html("out.html")
